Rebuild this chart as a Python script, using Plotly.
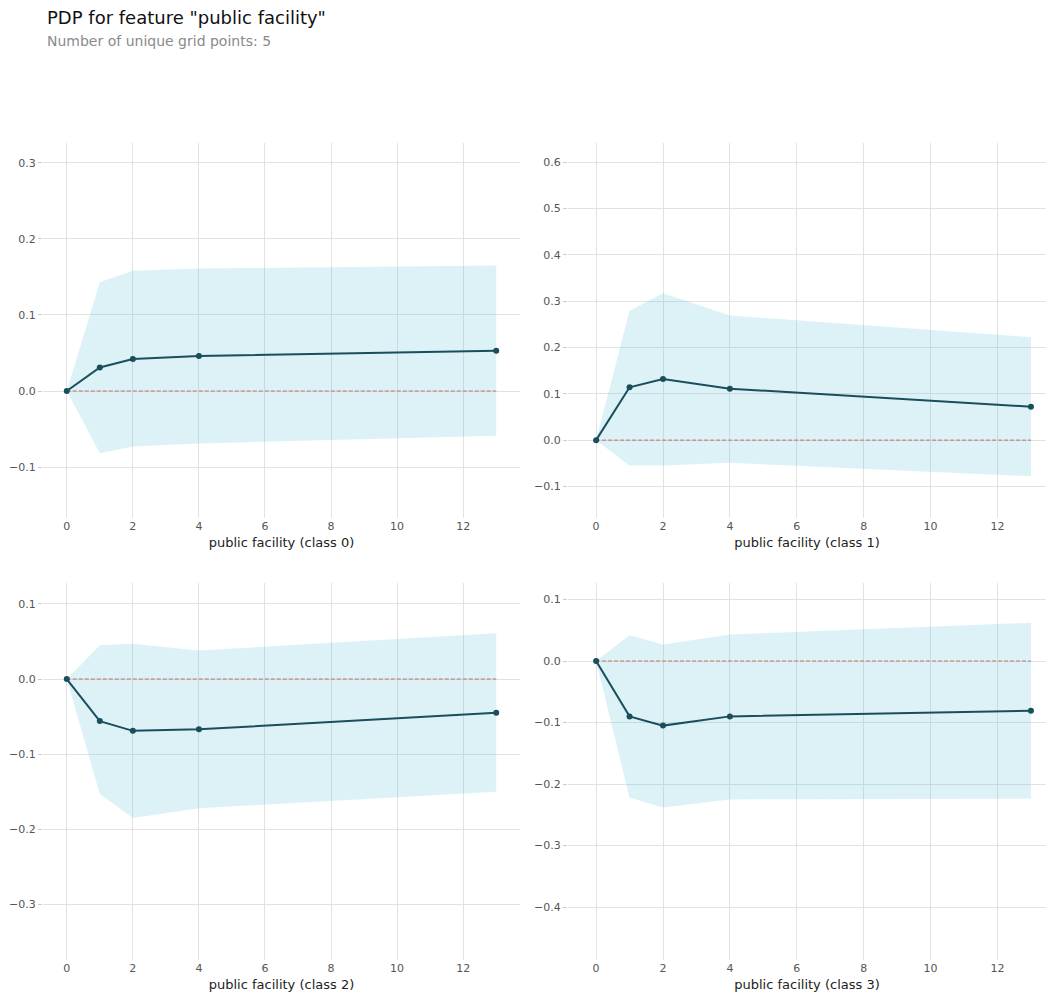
import plotly.graph_objects as go

# Grid points of the feature
grid_x = [0, 1, 2, 4, 13]
x_ticks = [0, 2, 4, 6, 8, 10, 12]

# PDP values per class
pdp_class0 = [0.0, 0.031, 0.042, 0.046, 0.053]
upper_class0 = [0.0, 0.143, 0.158, 0.161, 0.165]
lower_class0 = [0.0, -0.082, -0.073, -0.069, -0.059]

pdp_class1 = [0.0, 0.114, 0.132, 0.111, 0.072]
upper_class1 = [0.0, 0.279, 0.317, 0.269, 0.222]
lower_class1 = [0.0, -0.055, -0.055, -0.049, -0.078]

pdp_class2 = [0.0, -0.056, -0.069, -0.067, -0.045]
upper_class2 = [0.0, 0.045, 0.047, 0.038, 0.061]
lower_class2 = [0.0, -0.153, -0.185, -0.172, -0.150]

pdp_class3 = [0.0, -0.090, -0.105, -0.090, -0.081]
upper_class3 = [0.0, 0.042, 0.027, 0.043, 0.062]
lower_class3 = [0.0, -0.222, -0.238, -0.225, -0.224]

class_labels = ["public facility (class 0)", "public facility (class 1)",
                "public facility (class 2)", "public facility (class 3)"]
y_ticks = [
    [-0.1, 0.0, 0.1, 0.2, 0.3],
    [-0.1, 0.0, 0.1, 0.2, 0.3, 0.4, 0.5, 0.6],
    [-0.3, -0.2, -0.1, 0.0, 0.1],
    [-0.4, -0.3, -0.2, -0.1, 0.0, 0.1],
]
y_ranges = [[-0.167, 0.3261], [-0.168, 0.641], [-0.374, 0.1278], [-0.486, 0.1268]]
x_ranges = [[-0.72, 13.72], [-0.84, 13.45], [-0.72, 13.72], [-0.84, 13.45]]

W, H = 1048, 993
# pixel boxes (left, right, top, bottom)
boxes = [(43, 520, 143, 518), (568, 1046, 143, 518),
         (43, 520, 583, 960), (568, 1046, 583, 960)]

series = [(pdp_class0, upper_class0, lower_class0),
          (pdp_class1, upper_class1, lower_class1),
          (pdp_class2, upper_class2, lower_class2),
          (pdp_class3, upper_class3, lower_class3)]

LINE = "#1A4E5D"
FILL = "rgba(102,194,215,0.22)"
ZERO = "#E05A40"
GRID = "#e2e2e2"
FONT = "DejaVu Sans"

fig = go.Figure()
layout = {}
shapes = []
for i, (pdp, up, lo) in enumerate(series):
    n = "" if i == 0 else str(i + 1)
    xa, ya = "x" + n, "y" + n
    fig.add_trace(go.Scatter(x=grid_x, y=up, mode="lines", line=dict(width=0),
                             xaxis=xa, yaxis=ya, showlegend=False, hoverinfo="skip"))
    fig.add_trace(go.Scatter(x=grid_x, y=lo, mode="lines", line=dict(width=0),
                             fill="tonexty", fillcolor=FILL,
                             xaxis=xa, yaxis=ya, showlegend=False, hoverinfo="skip"))
    fig.add_trace(go.Scatter(x=grid_x, y=pdp, mode="lines+markers",
                             line=dict(color=LINE, width=2),
                             marker=dict(color=LINE, size=6),
                             xaxis=xa, yaxis=ya, showlegend=False))
    shapes.append(dict(type="line", xref=xa, yref=ya, x0=grid_x[0], x1=grid_x[-1],
                       y0=0, y1=0, layer="between",
                       line=dict(color=ZERO, width=1, dash="4px,2px")))
    l, r, t, b = boxes[i]
    layout["xaxis" + n] = dict(
        domain=[l / W, r / W], anchor=ya, range=x_ranges[i],
        tickvals=x_ticks, showgrid=True, gridcolor=GRID,
        gridwidth=1, zeroline=False, showline=False, showspikes=False,
        ticks="", tickfont=dict(size=11, color="#555555", family=FONT),
        title=dict(text=class_labels[i], font=dict(size=13, color="#222222", family=FONT),
                   standoff=5),
    )
    layout["yaxis" + n] = dict(
        domain=[1 - b / H, 1 - t / H], anchor=xa, range=y_ranges[i],
        tickvals=y_ticks[i], tickformat=".1f", showgrid=True,
        gridcolor=GRID, gridwidth=1, showspikes=False,
        zeroline=False, showline=False, ticks="outside", ticklen=4,
        tickcolor="#cccccc",
        tickfont=dict(size=11, color="#555555", family=FONT),
    )

fig.update_layout(
    width=W, height=H, margin=dict(l=0, r=0, t=0, b=0),
    plot_bgcolor="white", paper_bgcolor="white",
    font=dict(family=FONT), hovermode=False, shapes=shapes,
    **layout,
)
fig.add_annotation(text='PDP for feature "public facility"', xref="paper", yref="paper",
                   x=45 / W, y=1 - 18 / H, xanchor="left", yanchor="middle",
                   showarrow=False, font=dict(size=18, color="#111111", family=FONT))
fig.add_annotation(text="Number of unique grid points: 5", xref="paper", yref="paper",
                   x=45 / W, y=1 - 41 / H, xanchor="left", yanchor="middle",
                   showarrow=False, font=dict(size=14, color="#8a8a8a", family=FONT))

fig.write_html("out.html", config={"displayModeBar": False},
               post_script="document.body.style.margin='0px';document.body.style.overflow='hidden';")
